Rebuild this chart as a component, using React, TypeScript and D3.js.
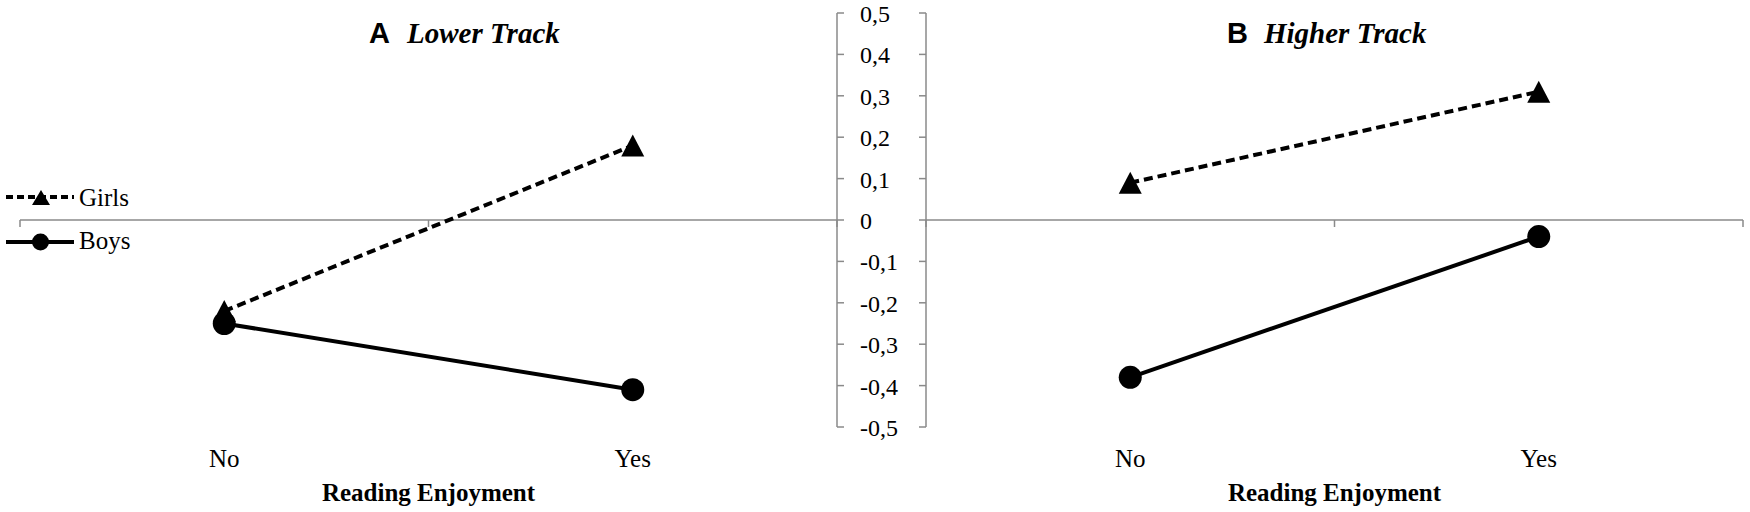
import React from "react";
import * as d3 from "d3";

const categories = ["No", "Yes"];
const yTickValues = [0.5, 0.4, 0.3, 0.2, 0.1, 0, -0.1, -0.2, -0.3, -0.4, -0.5];
const seriesNames = ["Girls", "Boys"];
const lowerTrackGirls = [-0.22, 0.18];
const lowerTrackBoys = [-0.25, -0.41];
const higherTrackGirls = [0.09, 0.31];
const higherTrackBoys = [-0.38, -0.04];
const panelLetters = ["A", "B"];
const panelTitles = ["Lower Track", "Higher Track"];
const xAxisTitle = "Reading Enjoyment";

const SERIF = "Liberation Serif, DejaVu Serif, Times New Roman, serif";
const SANS = "Liberation Sans, Arial, sans-serif";
const GRAY = "#8a8a8a";

function tri(cx: number, cy: number, w: number, h: number) {
  return `M${cx},${cy - h / 2}L${cx + w / 2},${cy + h / 2}L${cx - w / 2},${cy + h / 2}Z`;
}

function fmt(v: number) {
  if (Math.abs(v) < 1e-9) return "0";
  return (v < 0 ? "-" : "") + Math.abs(v).toFixed(1).replace(".", ",");
}

export default function App() {
  const y = d3.scaleLinear().domain([-0.5, 0.5]).range([427, 13]);
  const xA = d3.scaleBand<string>().domain(categories).range([20, 837]);
  const xB = d3.scaleBand<string>().domain(categories).range([926, 1743]);

  const panels = [
    { x: xA, girls: lowerTrackGirls, boys: lowerTrackBoys, letter: panelLetters[0], title: panelTitles[0], lx: 369, tx: 407, axisX: 837, tickDir: 1 },
    { x: xB, girls: higherTrackGirls, boys: higherTrackBoys, letter: panelLetters[1], title: panelTitles[1], lx: 1227, tx: 1264, axisX: 926, tickDir: -1 },
  ];

  return (
    <svg width={1750} height={512} style={{ position: "absolute", left: 0, top: 0, background: "#fff" }}>
      <rect x={0} y={0} width={1750} height={512} fill="#fff" />
      {panels.map((p, pi) => {
        const cx = (c: string) => (p.x(c) as number) + p.x.bandwidth() / 2;
        const line = d3
          .line<number>()
          .x((_, i) => cx(categories[i]))
          .y((d) => y(d));
        const [r0, r1] = p.x.range();
        const xTicks = [r0, (r0 + r1) / 2, r1];
        return (
          <g key={pi}>
            <line x1={r0} x2={r1} y1={y(0)} y2={y(0)} stroke={GRAY} strokeWidth={1.5} />
            {xTicks.map((t, i) => (
              <line key={i} x1={t} x2={t} y1={y(0)} y2={y(0) + 7} stroke={GRAY} strokeWidth={1.5} />
            ))}
            <line x1={p.axisX} x2={p.axisX} y1={y(0.5)} y2={y(-0.5)} stroke={GRAY} strokeWidth={1.5} />
            {yTickValues.map((t, i) => (
              <line key={i} x1={p.axisX} x2={p.axisX + p.tickDir * 7} y1={y(t)} y2={y(t)} stroke={GRAY} strokeWidth={1.5} />
            ))}
            {categories.map((c) => (
              <text key={c} x={cx(c)} y={467} textAnchor="middle" style={{ fontFamily: SERIF }} fontSize={25} fill="#000">
                {c}
              </text>
            ))}
            <text x={(r0 + r1) / 2} y={501} textAnchor="middle" style={{ fontFamily: SERIF }} fontWeight="bold" fontSize={25} fill="#000">
              {xAxisTitle}
            </text>
            <text x={p.lx} y={43} style={{ fontFamily: SANS }} fontWeight="bold" fontSize={29} fill="#000">
              {p.letter}
            </text>
            <text x={p.tx} y={43} style={{ fontFamily: SERIF }} fontWeight="bold" fontStyle="italic" fontSize={29} fill="#000">
              {p.title}
            </text>
            <path d={line(p.girls) || ""} fill="none" stroke="#000" strokeWidth={4} strokeDasharray="9,5" />
            <path d={line(p.boys) || ""} fill="none" stroke="#000" strokeWidth={4} />
            {p.girls.map((v, i) => (
              <path key={"g" + i} d={tri(cx(categories[i]), y(v), 23, 22)} fill="#000" />
            ))}
            {p.boys.map((v, i) => (
              <circle key={"b" + i} cx={cx(categories[i])} cy={y(v)} r={11.5} fill="#000" />
            ))}
          </g>
        );
      })}
      {yTickValues.map((t, i) => (
        <text key={i} x={860} y={y(t) + 9} style={{ fontFamily: SERIF }} fontSize={24} fill="#000">
          {fmt(t)}
        </text>
      ))}
      <g>
        <line x1={6} x2={74} y1={197} y2={197} stroke="#000" strokeWidth={4} strokeDasharray="7,4" />
        <path d={tri(41, 197.5, 18, 15)} fill="#000" />
        <text x={79} y={206} style={{ fontFamily: SERIF }} fontSize={25} fill="#000">
          {seriesNames[0]}
        </text>
        <line x1={6} x2={74} y1={242} y2={242} stroke="#000" strokeWidth={4} />
        <circle cx={40.5} cy={242} r={8.5} fill="#000" />
        <text x={79} y={249} style={{ fontFamily: SERIF }} fontSize={25} fill="#000">
          {seriesNames[1]}
        </text>
      </g>
    </svg>
  );
}
